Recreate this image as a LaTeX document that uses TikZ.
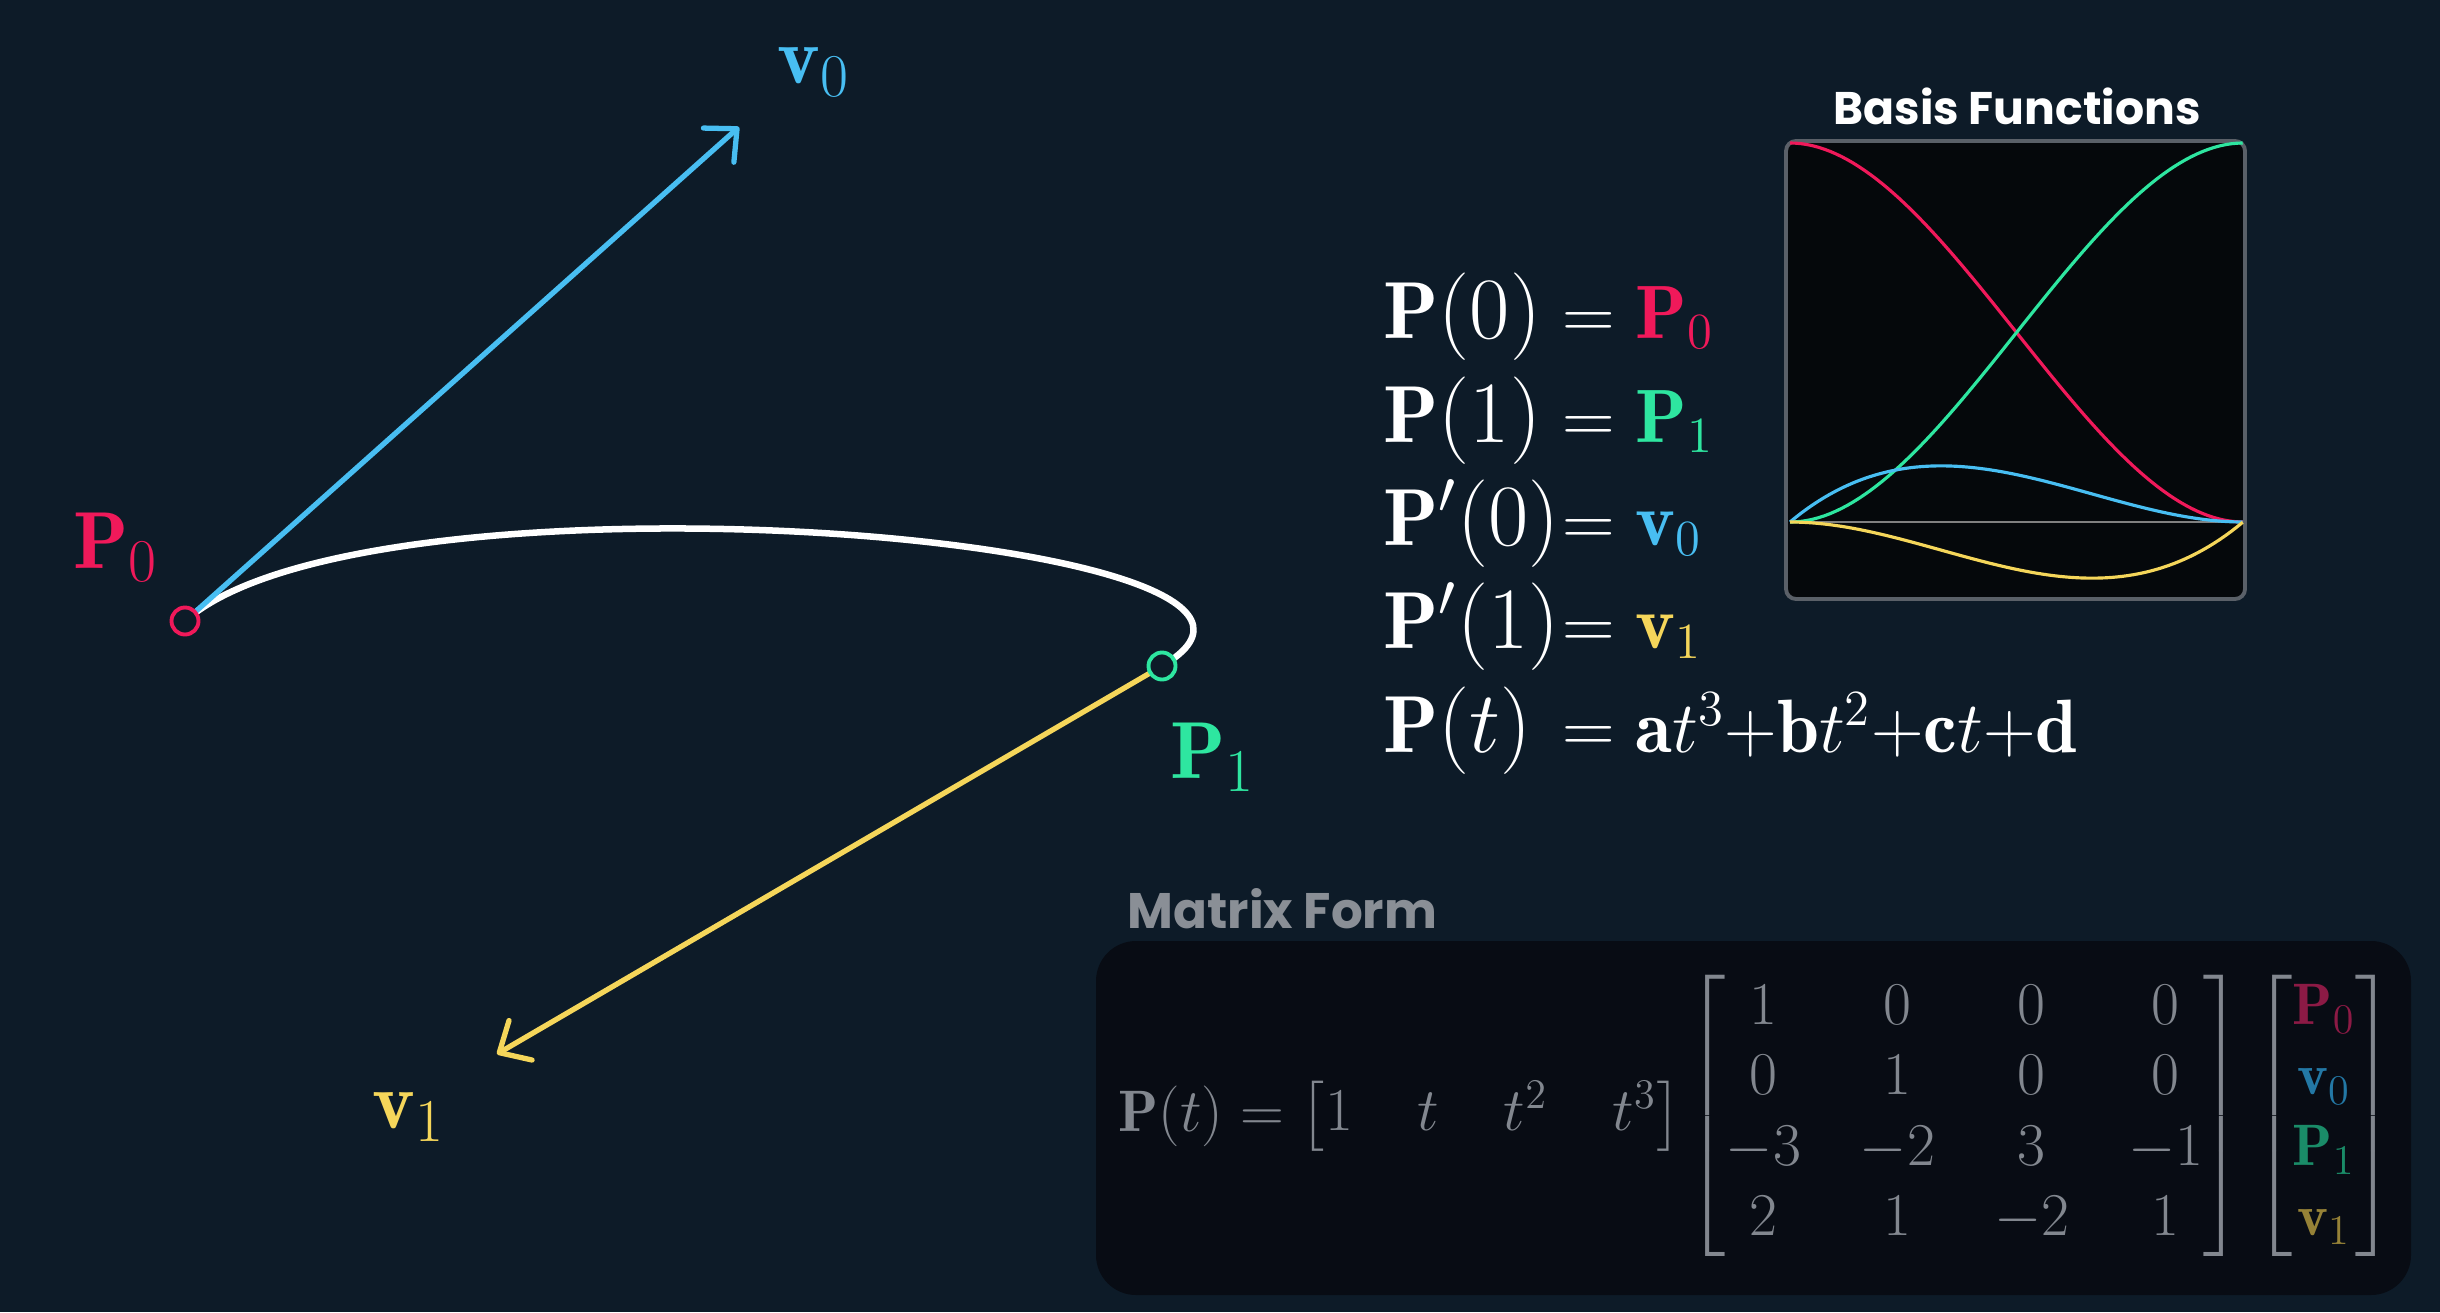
\documentclass[tikz,border=0pt]{standalone}
\usepackage{amsmath}
\usepackage{amssymb}
\usepackage{fontspec}
\newfontfamily\uifont{Poppins}
\usetikzlibrary{arrows.meta,calc}

\definecolor{bg}{HTML}{0D1B28}
\definecolor{pzero}{HTML}{F0195A}
\definecolor{pone}{HTML}{2EE6A0}
\definecolor{vzero}{HTML}{48BEF2}
\definecolor{vone}{HTML}{F5D65A}
\definecolor{plotbg}{HTML}{05080B}
\definecolor{plotframe}{HTML}{5A6068}
\definecolor{zeroline}{HTML}{808080}
\definecolor{panelbg}{HTML}{080C14}
\definecolor{dimtext}{HTML}{82878F}
\definecolor{dimtitle}{HTML}{8A8F96}
\definecolor{dimpzero}{HTML}{8C1A45}
\definecolor{dimvzero}{HTML}{2378A5}
\definecolor{dimpone}{HTML}{1A8C68}
\definecolor{dimvone}{HTML}{968237}

\begin{document}
\begin{tikzpicture}[x=0.01cm,y=-0.01cm,
        vec/.style={line width=1.5pt,-{Straight Barb[length=7pt,width=13pt,round]}},
        knot/.style={circle,line width=1.1pt,fill=bg,minimum size=0.27cm,inner sep=0pt},
        lbl/.style={anchor=base west,inner sep=0pt,font=\fontsize{23}{28}\selectfont},
        eq/.style={anchor=base west,inner sep=0pt,text=white,font=\fontsize{23}{28}\selectfont},
        eqrhs/.style={eq,font=\fontsize{21.5}{26}\selectfont},
        basis/.style={line width=0.9pt},
        title/.style={inner sep=0pt,font=\uifont\bfseries\fontsize{13}{16}\selectfont},
        mat/.style={anchor=west,inner sep=0pt,text=dimtext,font=\fontsize{16.65}{20}\selectfont,
          execute at begin node=\setlength{\arraycolsep}{8.4pt}}]

  \fill[bg] (0,0) rectangle (2440,1312);

  \coordinate (p0) at (185,621);
  \coordinate (p1) at (1162,666);
  \coordinate (v0end) at (739,127);
  \coordinate (v1end) at (497,1054);

  \node[title,anchor=base,text=white] (basistitle) at (2017,124) {Basis Functions};
  \draw[plotframe,fill=plotbg,line width=1.1pt,rounded corners=0.1cm] (1786,141) rectangle (2245,599);
  \draw[zeroline,line width=0.6pt] (1790,522) -- (2243,522);
  \draw[basis,pzero] plot[domain=0:1,samples=80,variable=\t] ({1790+453*\t},{522-379*(2*\t^3-3*\t^2+1)});
  \draw[basis,pone] plot[domain=0:1,samples=80,variable=\t] ({1790+453*\t},{522-379*(3*\t^2-2*\t^3)});
  \draw[basis,vzero] plot[domain=0:1,samples=80,variable=\t] ({1790+453*\t},{522-379*(\t^3-2*\t^2+\t)});
  \draw[basis,vone] plot[domain=0:1,samples=80,variable=\t] ({1790+453*\t},{522-379*(\t^3-\t^2)});

  \draw[white,line width=1.85pt] (p0) .. controls ($(p0)!1/3!(v0end)$) and ($(p1)!-1/3!(v1end)$) .. (p1);
  \draw[vec,vzero] (p0) -- (v0end);
  \draw[vec,vone] (p1) -- (v1end);
  \node[knot,draw=pzero] (k0) at (p0) {};
  \node[knot,draw=pone] (k1) at (p1) {};

  \node[lbl,text=pzero] (lp0) at (73,568) {$\mathbf{P}_0$};
  \node[lbl,text=pone] (lp1) at (1170,778) {$\mathbf{P}_1$};
  \node[lbl,text=vzero] (lv0) at (777,83) {$\mathbf{v}_0$};
  \node[lbl,text=vone] (lv1) at (372,1128) {$\mathbf{v}_1$};

  \node[eq] (lhs0) at (1383,338) {$\mathbf{P}(0)$};
  \node[eqrhs] (rhs0) at (1562,338) {$={\color{pzero}\mathbf{P}_0}$};
  \node[eq] (lhs1) at (1383,442) {$\mathbf{P}(1)$};
  \node[eqrhs] (rhs1) at (1562,442) {$={\color{pone}\mathbf{P}_1}$};
  \node[eq] (lhs2) at (1383,545) {$\mathbf{P}'(0)$};
  \node[eqrhs] (rhs2) at (1562,545) {$={\color{vzero}\mathbf{v}_0}$};
  \node[eq] (lhs3) at (1383,648) {$\mathbf{P}'(1)$};
  \node[eqrhs] (rhs3) at (1562,648) {$={\color{vone}\mathbf{v}_1}$};
  \node[eq] (lhs4) at (1383,752) {$\mathbf{P}(t)$};
  \node[eqrhs] (rhs4) at (1562,752) {$=\mathbf{a}t^3{+}\mathbf{b}t^2{+}\mathbf{c}t{+}\mathbf{d}$};

  \node[title,anchor=base west,text=dimtitle,font=\uifont\bfseries\fontsize{14.2}{17}\selectfont] (mattitle) at (1127,928) {Matrix Form};
  \fill[panelbg,rounded corners=0.4cm] (1096,941) rectangle (2411,1295);
  \node[mat,execute at begin node=\setlength{\arraycolsep}{9.2pt}] (rowvec) at (1118,1116) {$\mathbf{P}(t)=\begin{bmatrix}1&t&t^2&t^3\end{bmatrix}$};
  \node[mat] (coeffs) at (1686,1116) {$\begin{bmatrix}1&0&0&0\\0&1&0&0\\-3&-2&3&-1\\2&1&-2&1\end{bmatrix}$};
  \node[mat] (ctrl) at (2253,1116) {$\begin{bmatrix}\color{dimpzero}\mathbf{P}_0\\\color{dimvzero}\mathbf{v}_0\\\color{dimpone}\mathbf{P}_1\\\color{dimvone}\mathbf{v}_1\end{bmatrix}$};

\end{tikzpicture}
\end{document}
